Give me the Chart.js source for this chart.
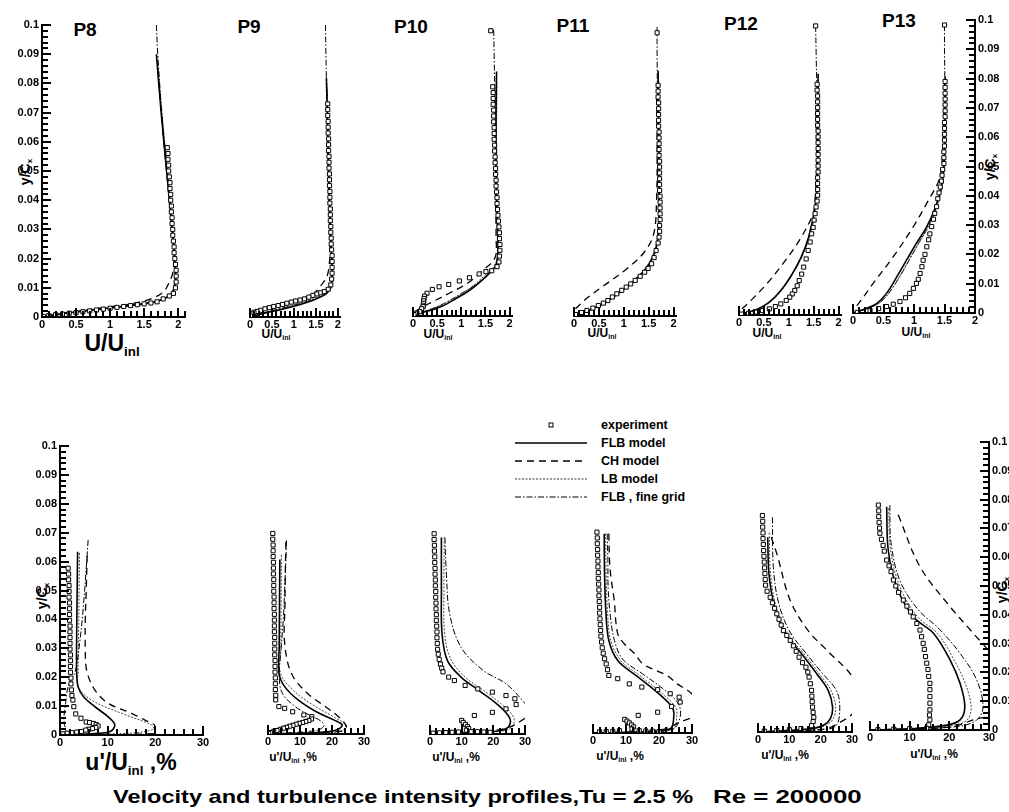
<!DOCTYPE html>
<html>
<head>
<meta charset="UTF-8">
<title>Velocity and turbulence intensity profiles</title>
<script src="https://cdn.jsdelivr.net/npm/chart.js@4.4.0/dist/chart.umd.min.js"></script>
<style>
body { margin:0; background:#fff; }
#page { position:relative; width:1009px; height:812px; overflow:hidden; background:#fff;
  font-family:"Liberation Sans", Arial, Helvetica, sans-serif; color:#000; }
canvas.pnl { position:absolute; }
.t { position:absolute; font-weight:bold; white-space:nowrap; transform:translate(-50%,-50%); line-height:1; }
.t sub { font-size:58%; vertical-align:-0.35em; }
.yt { transform:translate(-50%,-50%) rotate(-90deg); font-size:14px; }
.pl { font-size:19px; }
.xs { font-size:12px; }
.xb { font-size:23px; }
.cap { position:absolute; font-weight:bold; white-space:nowrap; font-size:19px; line-height:1; transform-origin:0 50%; }
#legend { position:absolute; left:515px; top:416px; font-weight:bold; font-size:12.5px; }
#legend .row { height:18px; display:flex; align-items:center; }
#legend svg { width:72px; height:10px; margin-right:14px; }
</style>
</head>
<body>
<div id="page">
  <!-- panel names -->
  <div class="t pl" style="left:85px;top:29px">P8</div>
  <div class="t pl" style="left:249px;top:26px">P9</div>
  <div class="t pl" style="left:411px;top:26px">P10</div>
  <div class="t pl" style="left:573px;top:25px">P11</div>
  <div class="t pl" style="left:741px;top:23px">P12</div>
  <div class="t pl" style="left:899px;top:20px">P13</div>

  <!-- axis titles, top row -->
  <div class="t xb" style="left:112px;top:345px">U/U<sub>inl</sub></div>
  <div class="t xs" style="left:276px;top:335px">U/U<sub>inl</sub></div>
  <div class="t xs" style="left:438px;top:335px">U/U<sub>inl</sub></div>
  <div class="t xs" style="left:602px;top:334px">U/U<sub>inl</sub></div>
  <div class="t xs" style="left:767px;top:334px">U/U<sub>inl</sub></div>
  <div class="t xs" style="left:916px;top:333px">U/U<sub>inl</sub></div>

  <!-- axis titles, bottom row -->
  <div class="t xb" style="left:131px;top:764px">u'/U<sub>inl</sub> ,%</div>
  <div class="t xs" style="left:293px;top:758px">u'/U<sub>inl</sub> ,%</div>
  <div class="t xs" style="left:456px;top:758px">u'/U<sub>inl</sub> ,%</div>
  <div class="t xs" style="left:620px;top:757px">u'/U<sub>inl</sub> ,%</div>
  <div class="t xs" style="left:785px;top:756px">u'/U<sub>inl</sub> ,%</div>
  <div class="t xs" style="left:934px;top:755px">u'/U<sub>inl</sub> ,%</div>

  <!-- y titles -->
  <div class="t yt" style="left:26px;top:172px">y/C<sub>x</sub></div>
  <div class="t yt" style="left:991px;top:167px">y/C<sub>x</sub></div>
  <div class="t yt" style="left:43px;top:596px">y/C<sub>x</sub></div>
  <div class="t yt" style="left:1003px;top:590px">y/C<sub>x</sub></div>

  <!-- legend -->
  <div id="legend">
    <div class="row"><svg><rect x="34" y="3" width="4" height="4" fill="#fff" stroke="#000" stroke-width="1"/></svg>experiment</div>
    <div class="row"><svg><line x1="0" y1="5" x2="72" y2="5" stroke="#000" stroke-width="1.6"/></svg>FLB model</div>
    <div class="row"><svg><line x1="0" y1="5" x2="72" y2="5" stroke="#000" stroke-width="1.3" stroke-dasharray="7 5"/></svg>CH model</div>
    <div class="row"><svg><line x1="0" y1="5" x2="72" y2="5" stroke="#333" stroke-width="1" stroke-dasharray="2 1.5"/></svg>LB model</div>
    <div class="row"><svg><line x1="0" y1="5" x2="72" y2="5" stroke="#000" stroke-width="1" stroke-dasharray="6 2 1.5 2"/></svg>FLB , fine grid</div>
  </div>

  <!-- caption -->
  <div class="cap" style="left:113px;top:787px;transform:scaleX(1.24)">Velocity and turbulence intensity profiles,Tu = 2.5 %</div>
  <div class="cap" style="left:713px;top:787px;transform:scaleX(1.36)">Re = 200000</div>
</div>

<script>
// ---------- data: [value, y/Cx] pairs ----------
// top row: U/U_inl
const p8Exp = [[1.84,0.058],[1.85,0.056],[1.85,0.054],[1.86,0.052],[1.86,0.050],[1.87,0.048],[1.88,0.046],[1.88,0.044],[1.89,0.042],[1.89,0.040],[1.90,0.038],[1.90,0.036],[1.91,0.034],[1.91,0.032],[1.92,0.030],[1.92,0.028],[1.93,0.026],[1.94,0.024],[1.94,0.022],[1.95,0.020],[1.96,0.018],[1.97,0.016],[1.97,0.014],[1.97,0.012],[1.96,0.010],[1.93,0.0081],[1.87,0.0072],[1.78,0.0062],[1.69,0.0052],[1.6,0.0048],[1.5,0.0045],[1.4,0.0042],[1.3,0.0039],[1.2,0.0036],[1.1,0.0033],[1.0,0.003],[0.9,0.0027],[0.8,0.0024],[0.7,0.0021],[0.6,0.0018],[0.5,0.0015],[0.4,0.0013],[0.3,0.001],[0.2,0.0008],[0.1,0.0005],[0.02,0.0002]];
const p8Flb = [[1.68,0.09],[1.75,0.07],[1.83,0.05],[1.89,0.035],[1.94,0.022],[1.96,0.015],[1.95,0.011],[1.9,0.008],[1.75,0.0058],[1.5,0.0045],[1.0,0.0031],[0.5,0.0017],[0.2,0.0008],[0,0]];
const p8Ch = [[1.7,0.085],[1.77,0.065],[1.85,0.045],[1.91,0.03],[1.94,0.02],[1.92,0.015],[1.85,0.011],[1.78,0.0085],[1.6,0.0062],[1.3,0.0045],[0.9,0.0032],[0.5,0.0019],[0.2,0.0009],[0,0]];
const p8Lb = [[1.69,0.088],[1.76,0.07],[1.84,0.05],[1.9,0.035],[1.94,0.022],[1.95,0.014],[1.92,0.009],[1.8,0.0065],[1.5,0.0048],[1.0,0.0033],[0.5,0.0018],[0.2,0.0009],[0,0]];
const p8Fine = [[1.68,0.1],[1.70,0.09],[1.76,0.07],[1.84,0.05],[1.9,0.035],[1.95,0.022],[1.97,0.014],[1.95,0.01],[1.88,0.0075],[1.7,0.0055],[1.4,0.0042],[1.0,0.0031],[0.5,0.0017],[0.2,0.0008],[0,0]];

const p9Exp = [[1.77,0.073],[1.77,0.071],[1.77,0.069],[1.78,0.067],[1.78,0.065],[1.78,0.063],[1.79,0.061],[1.79,0.059],[1.79,0.057],[1.80,0.055],[1.80,0.053],[1.80,0.051],[1.81,0.049],[1.81,0.047],[1.81,0.045],[1.82,0.043],[1.82,0.041],[1.82,0.039],[1.83,0.037],[1.83,0.035],[1.83,0.033],[1.84,0.031],[1.84,0.029],[1.85,0.027],[1.85,0.025],[1.86,0.023],[1.87,0.021],[1.87,0.019],[1.87,0.017],[1.87,0.015],[1.86,0.013],[1.84,0.011],[1.78,0.0095],[1.69,0.0087],[1.6,0.0083],[1.52,0.0079],[1.43,0.0074],[1.34,0.0068],[1.24,0.0062],[1.14,0.0058],[1.04,0.0055],[0.94,0.0051],[0.84,0.0047],[0.74,0.0043],[0.64,0.0039],[0.54,0.0036],[0.44,0.0032],[0.34,0.0028],[0.24,0.0023],[0.16,0.0019],[0.09,0.0016],[0.04,0.001],[0.01,0.0004]];
const p9Flb = [[1.74,0.082],[1.76,0.07],[1.79,0.05],[1.83,0.03],[1.86,0.02],[1.87,0.013],[1.84,0.01],[1.74,0.008],[1.6,0.0068],[1.44,0.0057],[1.2,0.0045],[0.94,0.0034],[0.6,0.0022],[0.3,0.0012],[0,0]];
const p9Ch = [[1.75,0.078],[1.77,0.06],[1.8,0.04],[1.82,0.025],[1.8,0.017],[1.74,0.0135],[1.6,0.0105],[1.44,0.0079],[1.24,0.0066],[1.04,0.0056],[0.8,0.0045],[0.5,0.0032],[0.25,0.002],[0,0.0005]];
const p9Lb = [[1.75,0.08],[1.77,0.07],[1.8,0.05],[1.84,0.03],[1.86,0.02],[1.86,0.013],[1.82,0.0105],[1.72,0.0085],[1.55,0.007],[1.3,0.0055],[1.0,0.0041],[0.7,0.0028],[0.35,0.0015],[0,0]];
const p9Fine = [[1.72,0.1],[1.73,0.09],[1.75,0.075],[1.78,0.055],[1.82,0.035],[1.86,0.022],[1.87,0.014],[1.85,0.0105],[1.76,0.0085],[1.6,0.007],[1.4,0.0058],[1.1,0.0045],[0.8,0.0033],[0.4,0.0018],[0,0]];

const p10Exp = [[1.61,0.0977],[1.65,0.0785],[1.66,0.0765],[1.66,0.0745],[1.66,0.0725],[1.67,0.0705],[1.67,0.0685],[1.67,0.0665],[1.68,0.0645],[1.68,0.0625],[1.68,0.0605],[1.69,0.0585],[1.69,0.0565],[1.70,0.0545],[1.70,0.0525],[1.71,0.0505],[1.71,0.0485],[1.72,0.0465],[1.72,0.0445],[1.73,0.0425],[1.74,0.0405],[1.74,0.0385],[1.75,0.0365],[1.76,0.0345],[1.77,0.0325],[1.78,0.0305],[1.79,0.0285],[1.79,0.0265],[1.80,0.0245],[1.80,0.0225],[1.79,0.0205],[1.78,0.0185],[1.74,0.0169],[1.63,0.0155],[1.51,0.0152],[1.37,0.0144],[1.17,0.0131],[0.96,0.012],[0.74,0.0108],[0.54,0.01],[0.40,0.0091],[0.29,0.0078],[0.24,0.0068],[0.23,0.006],[0.22,0.0052],[0.22,0.0044],[0.21,0.0037],[0.21,0.0032],[0.18,0.0025],[0.14,0.0015],[0.08,0.001],[0.02,0.0005]];
const p10Flb = [[1.73,0.0837],[1.72,0.07],[1.72,0.05],[1.74,0.035],[1.76,0.024],[1.75,0.02],[1.70,0.0169],[1.51,0.0135],[1.18,0.0089],[0.89,0.006],[0.61,0.0034],[0.33,0.0018],[0.05,0.0007],[0,0]];
const p10Ch = [[1.69,0.075],[1.7,0.06],[1.71,0.04],[1.72,0.027],[1.70,0.02],[1.46,0.0158],[1.13,0.0112],[0.75,0.0078],[0.42,0.005],[0.13,0.0025],[0,0.001]];
const p10Lb = [[1.74,0.08],[1.73,0.06],[1.74,0.04],[1.76,0.025],[1.74,0.0195],[1.66,0.0165],[1.48,0.0138],[1.2,0.0098],[0.92,0.0068],[0.62,0.0041],[0.35,0.0022],[0.08,0.0008],[0,0]];
const p10Fine = [[1.67,0.098],[1.68,0.09],[1.7,0.07],[1.72,0.05],[1.75,0.03],[1.76,0.022],[1.72,0.0175],[1.55,0.014],[1.25,0.0102],[0.95,0.0072],[0.65,0.0043],[0.35,0.0022],[0.08,0.0008],[0,0]];

const p11Exp = [[1.67,0.097],[1.69,0.079],[1.69,0.077],[1.69,0.075],[1.70,0.073],[1.70,0.071],[1.70,0.069],[1.70,0.067],[1.70,0.065],[1.71,0.063],[1.71,0.061],[1.71,0.059],[1.71,0.057],[1.71,0.055],[1.72,0.053],[1.72,0.051],[1.72,0.049],[1.72,0.047],[1.72,0.045],[1.72,0.043],[1.73,0.041],[1.73,0.039],[1.73,0.037],[1.73,0.035],[1.73,0.033],[1.72,0.031],[1.72,0.029],[1.71,0.027],[1.69,0.025],[1.65,0.0224],[1.61,0.020],[1.56,0.0179],[1.49,0.0163],[1.42,0.015],[1.33,0.0136],[1.23,0.0122],[1.14,0.011],[1.05,0.0099],[0.96,0.0088],[0.86,0.0076],[0.77,0.0065],[0.68,0.0053],[0.59,0.0044],[0.49,0.0036],[0.38,0.0027],[0.26,0.0019],[0.15,0.0012],[0.03,0.0005]];
const p11Flb = [[1.69,0.084],[1.70,0.07],[1.71,0.05],[1.71,0.035],[1.69,0.027],[1.63,0.022],[1.5,0.0175],[1.3,0.0135],[1.05,0.0098],[0.8,0.0066],[0.55,0.0039],[0.3,0.0019],[0.08,0.0006],[0,0]];
const p11Ch = [[1.66,0.075],[1.67,0.06],[1.66,0.04],[1.60,0.028],[1.39,0.0214],[1.02,0.0156],[0.65,0.011],[0.28,0.0064],[0.03,0.0025],[0,0.002]];
const p11Lb = [[1.68,0.082],[1.69,0.07],[1.70,0.05],[1.70,0.035],[1.67,0.026],[1.6,0.0215],[1.46,0.017],[1.25,0.013],[1.0,0.0095],[0.75,0.0063],[0.5,0.0037],[0.25,0.0018],[0.05,0.0005],[0,0]];
const p11Fine = [[1.67,0.099],[1.67,0.09],[1.68,0.07],[1.69,0.05],[1.7,0.035],[1.68,0.027],[1.62,0.022],[1.48,0.0172],[1.27,0.0132],[1.02,0.0096],[0.77,0.0064],[0.52,0.0038],[0.27,0.0018],[0.06,0.0005],[0,0]];

const p12Exp = [[1.54,0.099],[1.57,0.079],[1.57,0.077],[1.58,0.075],[1.58,0.073],[1.58,0.071],[1.58,0.069],[1.58,0.067],[1.58,0.065],[1.59,0.063],[1.59,0.061],[1.59,0.059],[1.59,0.057],[1.59,0.055],[1.59,0.053],[1.59,0.051],[1.59,0.049],[1.58,0.047],[1.58,0.045],[1.58,0.043],[1.58,0.041],[1.57,0.039],[1.55,0.037],[1.53,0.0347],[1.51,0.0325],[1.49,0.030],[1.46,0.0278],[1.43,0.025],[1.39,0.0221],[1.35,0.0192],[1.30,0.0164],[1.26,0.014],[1.21,0.0118],[1.17,0.010],[1.12,0.0084],[1.07,0.0072],[1.02,0.0061],[0.95,0.005],[0.84,0.0038],[0.73,0.0029],[0.61,0.0021],[0.47,0.0015],[0.33,0.001],[0.19,0.0006],[0.05,0.0003]];
const p12Flb = [[1.59,0.0826],[1.59,0.06],[1.57,0.045],[1.53,0.037],[1.40,0.0267],[1.25,0.0198],[1.07,0.0141],[0.84,0.0084],[0.61,0.0044],[0.38,0.0021],[0.08,0.0005],[0,0]];
const p12Ch = [[1.55,0.07],[1.56,0.05],[1.53,0.04],[1.49,0.0347],[1.21,0.0255],[0.88,0.0175],[0.56,0.0107],[0.24,0.005],[0.05,0.002],[0,0.0015]];
const p12Lb = [[1.58,0.08],[1.58,0.06],[1.56,0.045],[1.52,0.036],[1.41,0.027],[1.27,0.0205],[1.1,0.0148],[0.88,0.009],[0.64,0.0047],[0.4,0.0022],[0.1,0.0005],[0,0]];
const p12Fine = [[1.54,0.099],[1.55,0.09],[1.57,0.07],[1.58,0.05],[1.55,0.04],[1.48,0.031],[1.35,0.0235],[1.16,0.0165],[0.93,0.0102],[0.68,0.0054],[0.42,0.0024],[0.12,0.0006],[0,0]];

const p13Exp = [[1.5,0.0983],[1.51,0.079],[1.51,0.077],[1.51,0.075],[1.51,0.073],[1.51,0.071],[1.51,0.069],[1.51,0.067],[1.50,0.065],[1.50,0.063],[1.50,0.061],[1.50,0.059],[1.50,0.057],[1.49,0.055],[1.49,0.053],[1.49,0.051],[1.47,0.049],[1.46,0.047],[1.45,0.045],[1.43,0.043],[1.41,0.041],[1.39,0.039],[1.37,0.0363],[1.34,0.034],[1.32,0.032],[1.29,0.0295],[1.26,0.027],[1.24,0.025],[1.21,0.0226],[1.18,0.020],[1.15,0.018],[1.13,0.0158],[1.10,0.0135],[1.07,0.0115],[1.04,0.0101],[0.99,0.0084],[0.93,0.0067],[0.86,0.0052],[0.77,0.0039],[0.66,0.003],[0.55,0.0022],[0.42,0.0015],[0.28,0.0008],[0.07,0.0002]];
const p13Flb = [[1.51,0.0807],[1.51,0.06],[1.49,0.05],[1.45,0.043],[1.35,0.036],[1.21,0.0295],[1.04,0.0238],[0.88,0.0181],[0.72,0.0124],[0.55,0.0067],[0.39,0.0033],[0.17,0.0012],[0.02,0.0002],[0,0]];
const p13Ch = [[1.49,0.07],[1.47,0.055],[1.42,0.046],[1.24,0.0386],[0.99,0.0295],[0.66,0.0192],[0.33,0.0101],[0.07,0.0027],[0,0.002]];
const p13Lb = [[1.51,0.078],[1.51,0.06],[1.49,0.05],[1.46,0.043],[1.37,0.036],[1.24,0.0295],[1.07,0.0235],[0.91,0.0178],[0.75,0.012],[0.58,0.0065],[0.42,0.0032],[0.2,0.0012],[0,0]];
const p13Fine = [[1.5,0.0983],[1.5,0.09],[1.51,0.07],[1.5,0.055],[1.46,0.045],[1.38,0.037],[1.24,0.03],[1.08,0.024],[0.92,0.018],[0.76,0.0122],[0.58,0.0066],[0.41,0.0032],[0.18,0.0011],[0,0]];

// bottom row: u'/U_inl, %
const b8Exp = [[1.7,0.0577],[1.8,0.0557],[1.8,0.0537],[1.9,0.0517],[1.9,0.0497],[1.9,0.0477],[2.0,0.0457],[2.0,0.0437],[2.0,0.0417],[2.0,0.0397],[2.1,0.0377],[2.1,0.0357],[2.1,0.0337],[2.1,0.0317],[2.1,0.0297],[2.2,0.0277],[2.2,0.0257],[2.2,0.0237],[2.2,0.0217],[2.3,0.0197],[2.3,0.0177],[2.4,0.0156],[2.5,0.0137],[2.7,0.0121],[2.9,0.0098],[3.3,0.0073],[4.4,0.0058],[5.5,0.0045],[6.2,0.0043],[7.0,0.004],[7.6,0.0036],[8.0,0.0031],[7.5,0.0026],[6.8,0.0022],[6.0,0.002],[5.4,0.0017],[4.5,0.0012],[3.5,0.001],[2.5,0.0008],[1.5,0.0006],[0.6,0.0004]];
const b8Flb = [[3.7,0.0634],[3.6,0.05],[3.5,0.035],[3.5,0.0213],[3.8,0.0167],[4.9,0.0133],[7.3,0.0098],[10.1,0.0063],[11.5,0.0035],[10.5,0.0012],[7.3,0.0005],[3,0.0002],[0,0]];
const b8Ch = [[5.7,0.062],[5.5,0.05],[5.3,0.04],[5.3,0.03],[5.6,0.0223],[7.3,0.0156],[10.1,0.011],[15,0.0075],[19.2,0.004],[19.8,0.0035],[19.8,0.0005],[0,0]];
const b8Lb = [[4.1,0.063],[4.0,0.05],[3.9,0.035],[3.8,0.022],[3.8,0.0167],[6.6,0.0121],[12.9,0.0075],[19.2,0.0035],[19.6,0.002],[16,0.0008],[8,0.0003],[0,0]];
const b8Fine = [[5.9,0.0675],[5.6,0.06],[4.9,0.0444],[4.2,0.0329],[3.2,0.022],[1.7,0.0167],[1.1,0.0098],[0.8,0.0052],[1.1,0.0012],[0,0]];

const b9Exp = [[1.5,0.0694],[1.5,0.0674],[1.6,0.0654],[1.6,0.0634],[1.6,0.0614],[1.7,0.0594],[1.7,0.0574],[1.7,0.0554],[1.8,0.0534],[1.8,0.0514],[1.8,0.0494],[1.9,0.0474],[1.9,0.0454],[1.9,0.0434],[2.0,0.0414],[2.0,0.0394],[2.0,0.0374],[2.0,0.0354],[2.1,0.0334],[2.1,0.0314],[2.1,0.0294],[2.1,0.0274],[2.2,0.0254],[2.2,0.0234],[2.2,0.0214],[2.3,0.0194],[2.3,0.0174],[2.3,0.0154],[2.4,0.0134],[2.4,0.0118],[3.4,0.0095],[5.2,0.0089],[7.7,0.0077],[11.2,0.0066],[13.7,0.006],[13.6,0.0052],[12.8,0.0047],[11.8,0.0043],[10.8,0.004],[9.8,0.0037],[8.8,0.0034],[7.8,0.003],[6.8,0.0027],[5.8,0.0023],[4.8,0.002],[3.8,0.0016],[2.8,0.0012],[1.8,0.0009],[0.8,0.0005],[0.2,0.0002]];
const b9Flb = [[3.7,0.0604],[3.6,0.045],[3.5,0.03],[3.45,0.021],[5.2,0.0164],[9.4,0.0118],[15.1,0.0077],[20.7,0.0048],[23.2,0.0031],[21.4,0.0014],[16.5,0.0006],[8,0.0002],[0,0]];
const b9Ch = [[5.6,0.0665],[5.4,0.055],[5.3,0.045],[5.2,0.0316],[7.3,0.021],[12.3,0.0141],[17.9,0.0095],[21.4,0.0066],[23.5,0.0043],[24.5,0.0025],[23,0.001],[0,0]];
const b9Lb = [[4.2,0.062],[4.1,0.045],[4.0,0.03],[3.9,0.021],[8.0,0.015],[14.1,0.01],[20.7,0.0058],[24.2,0.0031],[22.8,0.0008],[12,0.0002],[0,0]];
const b9Fine = [[5.8,0.067],[5.4,0.055],[4.8,0.04],[4.0,0.028],[3.5,0.02],[4.5,0.014],[8.5,0.0095],[13,0.0065],[16.5,0.0045],[17.5,0.0028],[15,0.0012],[0,0]];

const b10Exp = [[1.3,0.0693],[1.3,0.0673],[1.4,0.0653],[1.4,0.0633],[1.5,0.0613],[1.5,0.0593],[1.6,0.0573],[1.6,0.0553],[1.7,0.0533],[1.7,0.0513],[1.8,0.0493],[1.8,0.0473],[1.9,0.0453],[1.9,0.0433],[2.0,0.0413],[2.0,0.0393],[2.1,0.0373],[2.2,0.0353],[2.2,0.0333],[2.3,0.0313],[2.4,0.0293],[2.6,0.0276],[2.9,0.0258],[3.3,0.0242],[3.7,0.0228],[4.1,0.0215],[5.9,0.0197],[7.7,0.0185],[11.1,0.0168],[15.1,0.0156],[19.7,0.0145],[24,0.0133],[26.8,0.0122],[27.2,0.0102],[24,0.0087],[19.7,0.0075],[14,0.0064],[10.0,0.0047],[10.5,0.004],[11.2,0.0033],[11.8,0.0026],[12.2,0.0019],[11.5,0.0013],[1,0.0003],[3,0.0004],[5,0.0005],[7,0.0006],[9,0.0007],[13,0.0008],[15,0.0008],[17,0.0007],[19,0.0006]];
const b10Flb = [[3.6,0.068],[3.6,0.05],[3.8,0.0347],[5.5,0.0254],[9.8,0.0197],[15.5,0.015],[21.1,0.0104],[24.7,0.0064],[25.4,0.0041],[24,0.0018],[19.7,0.0008],[10,0.0003],[0,0]];
const b10Ch = [[32,0.07],[33,0.04],[34,0.02],[33,0.008],[30,0.0055],[25.4,0.0025],[18,0.001],[0,0]];
const b10Lb = [[4.5,0.068],[4.4,0.05],[4.6,0.035],[6.5,0.026],[11.1,0.0197],[17,0.015],[22.5,0.0104],[26,0.0066],[26.6,0.004],[25,0.0017],[20,0.0007],[0,0]];
const b10Fine = [[4.7,0.068],[5.2,0.055],[6.2,0.0416],[9.8,0.03],[16.8,0.022],[24,0.0174],[29.7,0.011],[31,0.009]];

const b11Exp = [[1.2,0.0695],[1.3,0.0675],[1.3,0.0655],[1.4,0.0635],[1.4,0.0615],[1.5,0.0595],[1.5,0.0575],[1.6,0.0555],[1.6,0.0535],[1.7,0.0515],[1.8,0.0495],[1.8,0.0475],[1.9,0.0455],[2.0,0.0435],[2.0,0.0415],[2.1,0.0395],[2.2,0.0375],[2.3,0.0355],[2.4,0.0335],[2.6,0.0315],[2.8,0.0295],[3.1,0.0276],[3.5,0.0257],[4.0,0.0239],[4.4,0.0219],[4.8,0.0199],[7.5,0.0188],[11,0.017],[14.8,0.0159],[19.6,0.015],[23.4,0.0136],[26.1,0.0124],[26.4,0.0107],[23.8,0.0092],[19.6,0.0072],[13.7,0.0061],[9.6,0.0047],[10.3,0.0041],[11.0,0.0035],[11.7,0.0028],[12.3,0.0021],[11.8,0.0014],[2,0.0004],[4,0.0005],[6,0.0006],[8,0.0008],[14,0.0008],[16,0.0007],[18,0.0006],[20,0.0005]];
const b11Flb = [[3.4,0.0689],[3.5,0.055],[3.9,0.042],[4.8,0.032],[7.5,0.0251],[13.7,0.0193],[19.9,0.0136],[24,0.0089],[24.5,0.006],[23.4,0.0015],[15,0.0004],[0,0]];
const b11Ch = [[4.8,0.069],[5.0,0.06],[5.4,0.0542],[6.4,0.0462],[7.5,0.0343],[9.6,0.0307],[12.4,0.0277],[15.1,0.0239],[19.2,0.0216],[22.7,0.0197],[25.5,0.017],[29.6,0.0139],[32,0.01],[30.5,0.006],[27.5,0.0043],[20,0.001],[0,0]];
const b11Lb = [[3.8,0.069],[4.0,0.055],[4.4,0.042],[5.4,0.032],[8.5,0.025],[14.8,0.0193],[21,0.0136],[25,0.009],[25.4,0.006],[24.3,0.0015],[15,0.0004],[0,0]];
const b11Fine = [[4.3,0.069],[4.5,0.06],[4.6,0.05],[5.3,0.04],[6.5,0.032],[9,0.0255],[15,0.0205],[21,0.0155],[25,0.0115],[26.5,0.008],[26,0.004],[24,0.0012],[0,0]];

const b12Exp = [[1.4,0.0749],[1.5,0.0729],[1.5,0.0709],[1.6,0.0689],[1.6,0.0669],[1.7,0.0649],[1.8,0.0628],[1.9,0.0608],[2.0,0.0588],[2.1,0.0568],[2.2,0.0548],[2.3,0.0528],[2.4,0.0508],[2.9,0.0487],[3.9,0.0466],[4.6,0.0447],[5.3,0.0428],[6.0,0.0409],[6.7,0.039],[7.4,0.037],[8.1,0.0351],[9.2,0.0334],[10.3,0.0317],[11.3,0.0298],[12.2,0.0279],[13.1,0.0259],[14.2,0.024],[15.3,0.0224],[15.9,0.0207],[16.3,0.019],[16.7,0.0167],[17.1,0.0144],[17.2,0.0124],[17.3,0.0105],[17.4,0.0086],[17.6,0.0068],[17.8,0.0051],[17.6,0.0036],[17.1,0.0022],[13.7,0.0012],[10,0.0008],[6,0.0005],[2,0.0003]];
const b12Flb = [[3.1,0.0674],[3.5,0.0547],[5.3,0.0432],[8.8,0.034],[13.9,0.0271],[18.8,0.0201],[22.4,0.0144],[23.8,0.0086],[23.1,0.0046],[21,0.0024],[17.4,0.0012],[8,0.0004],[0,0]];
const b12Ch = [[4.2,0.0674],[6,0.0617],[10.3,0.0455],[16,0.0351],[23.1,0.0271],[30.2,0.019],[33,0.01],[30.2,0.0063],[26.3,0.0034],[21.2,0.001],[0,0]];
const b12Lb = [[3.6,0.069],[4.0,0.055],[5.8,0.0432],[9.4,0.034],[14.6,0.0271],[19.6,0.0201],[23.3,0.0144],[24.8,0.0086],[24,0.0046],[21.8,0.0024],[18,0.0012],[0,0]];
const b12Fine = [[4.6,0.0743],[4.9,0.057],[6.5,0.045],[10,0.035],[15.5,0.027],[20.7,0.0201],[25,0.0144],[26.1,0.0086],[24.9,0.0022],[20,0.0008],[0,0]];

const b13Exp = [[2.1,0.0781],[2.2,0.0761],[2.2,0.0741],[2.3,0.0721],[2.4,0.0701],[2.5,0.0683],[2.9,0.0662],[3.3,0.0641],[3.6,0.0621],[4.2,0.059],[4.8,0.057],[5.3,0.055],[5.9,0.0521],[6.5,0.05],[7.2,0.0478],[8.4,0.0451],[9.3,0.043],[10.2,0.041],[10.9,0.0393],[11.8,0.037],[12.6,0.0347],[13.0,0.0324],[13.4,0.0301],[13.7,0.028],[14.0,0.0255],[14.3,0.0232],[14.6,0.021],[14.8,0.0186],[15.1,0.0162],[15.1,0.014],[15.1,0.0116],[15.1,0.0093],[15.1,0.007],[15.0,0.0052],[15.1,0.0035],[14.8,0.0018],[14.3,0.0006],[10,0.0005],[6,0.0003],[2,0.0001]];
const b13Flb = [[4.2,0.0775],[4.6,0.0625],[6.7,0.0498],[10.9,0.0393],[16,0.0336],[20.2,0.0243],[22.7,0.0162],[23.9,0.0081],[22.7,0.0035],[19.4,0.0017],[10,0.0004],[0,0]];
const b13Ch = [[7.1,0.0747],[12.6,0.0567],[20.2,0.0428],[26,0.0336],[30.2,0.0266],[33,0.015],[31,0.006],[26,0.0035],[20,0.001],[0,0]];
const b13Lb = [[4.7,0.077],[5.2,0.0625],[7.5,0.0498],[12,0.0393],[17,0.0336],[21.2,0.0243],[24,0.0162],[25.5,0.0081],[24.5,0.0035],[21,0.0017],[10,0.0004],[0,0]];
const b13Fine = [[5,0.0781],[5.3,0.065],[7.5,0.052],[12,0.042],[17.5,0.035],[22.7,0.0266],[26.9,0.0174],[28.5,0.0081],[26.9,0.0035],[22,0.0012],[0,0]];

// tick steps
const yTickStep = 0.01;
const topXStep = 0.5;
const botXStep = 10;

// ---------- layout of the 12 panels (pixel placement only) ----------
// x0: pixel of 0, xr: pixel of reference value xrv, yt/yb: pixels of 0.1 / 0
const panels = [
  {x0:42,  xr:178, xrv:2,  xmax:2.1,  yt:25,   yb:317,   side:'left',  set:[p8Exp,p8Flb,p8Ch,p8Lb,p8Fine],     row:'top'},
  {x0:204, xr:337, xrv:2,  xmax:2.05, yt:24.5, yb:316.5, side:'none',  set:[p9Exp,p9Flb,p9Ch,p9Lb,p9Fine],     row:'top'},
  {x0:367, xr:508, xrv:2,  xmax:2.05, yt:24,   yb:316,   side:'none',  set:[p10Exp,p10Flb,p10Ch,p10Lb,p10Fine], row:'top'},
  {x0:528, xr:672, xrv:2,  xmax:2.05, yt:23.5, yb:315.5, side:'none',  set:[p11Exp,p11Flb,p11Ch,p11Lb,p11Fine], row:'top'},
  {x0:693, xr:837, xrv:2,  xmax:2.05, yt:22.5, yb:314.5, side:'none',  set:[p12Exp,p12Flb,p12Ch,p12Lb,p12Fine], row:'top'},
  {x0:853, xr:975, xrv:2,  xmax:2,    yt:20,   yb:313,   side:'right', set:[p13Exp,p13Flb,p13Ch,p13Lb,p13Fine], row:'top'},
  {x0:60,  xr:203, xrv:30, xmax:30,   yt:446,  yb:735,   side:'left',  set:[b8Exp,b8Flb,b8Ch,b8Lb,b8Fine],     row:'bot'},
  {x0:222, xr:364, xrv:30, xmax:30,   yt:445,  yb:734,   side:'none',  set:[b9Exp,b9Flb,b9Ch,b9Lb,b9Fine],     row:'bot'},
  {x0:384, xr:525, xrv:30, xmax:30,   yt:444.5,yb:733.5, side:'none',  set:[b10Exp,b10Flb,b10Ch,b10Lb,b10Fine], row:'bot'},
  {x0:547, xr:692, xrv:30, xmax:30,   yt:443.5,yb:732.5, side:'none',  set:[b11Exp,b11Flb,b11Ch,b11Lb,b11Fine], row:'bot'},
  {x0:712, xr:852, xrv:30, xmax:30,   yt:442.5,yb:731.5, side:'none',  set:[b12Exp,b12Flb,b12Ch,b12Lb,b12Fine], row:'bot'},
  {x0:870, xr:989, xrv:30, xmax:30,   yt:442,  yb:730,   side:'right', set:[b13Exp,b13Flb,b13Ch,b13Lb,b13Fine], row:'bot'}
];

// line look of each series (same order as "set")
const seriesStyle = [
  {exp:true},
  {color:'#000', width:1.6, dash:[]},
  {color:'#000', width:1.3, dash:[7,5]},
  {color:'#333', width:0.9, dash:[2,1.5]},
  {color:'#000', width:1.0, dash:[6,2,1.5,2]}
];

const FONT = '"Liberation Sans", Arial, Helvetica, sans-serif';
const fmt = v => String(+(+v).toFixed(3));

// inward tick marks (minor and major), placed through the chart's own scales
function makeTickPlugin(side, xMinor, xEvery) {
  return {
    id: 'inTicks',
    afterDraw(chart) {
      const ctx = chart.ctx, a = chart.chartArea;
      const xs = chart.scales.x, ys = chart.scales.y;
      ctx.save();
      ctx.strokeStyle = '#000';
      ctx.setLineDash([]);
      const nx = Math.floor(xs.max / xMinor + 1e-6);
      for (let i = 0; i <= nx; i++) {
        const px = Math.round(xs.getPixelForValue(i * xMinor));
        const major = i % xEvery === 0;
        ctx.lineWidth = 2;
        ctx.beginPath();
        ctx.moveTo(px, a.bottom);
        ctx.lineTo(px, a.bottom - (major ? 9 : 6));
        ctx.stroke();
      }
      if (side !== 'none') {
        const edge = side === 'left' ? a.left : a.right;
        const dir = side === 'left' ? 1 : -1;
        for (let i = 0; i <= 50; i++) {
          const py = Math.round(ys.getPixelForValue(i * 0.002));
          const major = i % 5 === 0;
          ctx.lineWidth = 2;
          ctx.beginPath();
          ctx.moveTo(edge, py);
          ctx.lineTo(edge + dir * (major ? 9 : 6), py);
          ctx.stroke();
        }
      }
      ctx.restore();
    }
  };
}

const page = document.getElementById('page');

panels.forEach(function(p){
  const L = 46, R = 46, T = 12, B = 28;
  const plotW = Math.round((p.xr - p.x0) * p.xmax / p.xrv);
  const plotH = Math.round(p.yb - p.yt);
  const cv = document.createElement('canvas');
  cv.className = 'pnl';
  cv.width = L + plotW + R;
  cv.height = T + plotH + B;
  cv.style.left = (Math.round(p.x0) - L) + 'px';
  cv.style.top = (Math.round(p.yt) - T) + 'px';
  page.appendChild(cv);

  const datasets = p.set.map(function(pts, k){
    const st = seriesStyle[k];
    const data = pts.map(q => ({x:q[0], y:q[1]}));
    if (st.exp) {
      return {data:data, showLine:false, pointStyle:'rect', pointRadius:2.9,
        pointBorderWidth:1, pointBorderColor:'#000', pointBackgroundColor:'#fff'};
    }
    return {data:data, showLine:true, pointRadius:0, borderColor:st.color,
      borderWidth:st.width, borderDash:st.dash, tension:0.35, fill:false};
  });

  const tickFont = {family:FONT, size:11, weight:'bold'};
  new Chart(cv, {
    type: 'scatter',
    data: {datasets: datasets},
    options: {
      responsive:false, animation:false, events:[],
      layout: {autoPadding:false, padding:{left: p.side==='left'?0:L, right: p.side==='right'?0:R, top:T, bottom:0}},
      plugins: {legend:{display:false}, tooltip:{enabled:false}},
      scales: {
        x: {
          type:'linear', min:0, max:p.xmax,
          afterFit: s => { s.height = B; },
          grid:{display:false, drawTicks:false},
          border:{display:true, color:'#000', width:2},
          ticks:{stepSize: p.row==='top'?topXStep:botXStep, includeBounds:false, padding:1, color:'#000',
            font:tickFont, maxRotation:0, autoSkip:false, callback:v => fmt(v)}
        },
        y: {
          type:'linear', min:0, max:0.1, display: p.side!=='none',
          position: p.side==='right'?'right':'left',
          afterFit: s => { s.width = p.side==='left'?L:R; },
          grid:{display:false, drawTicks:false},
          border:{display:true, color:'#000', width:2},
          ticks:{stepSize:yTickStep, padding:3, color:'#000', font:tickFont, autoSkip:false, callback:v => fmt(v)}
        }
      }
    },
    plugins:[makeTickPlugin(p.side, p.row==='top'?0.1:2, 5)]
  });
});
</script>
</body>
</html>
